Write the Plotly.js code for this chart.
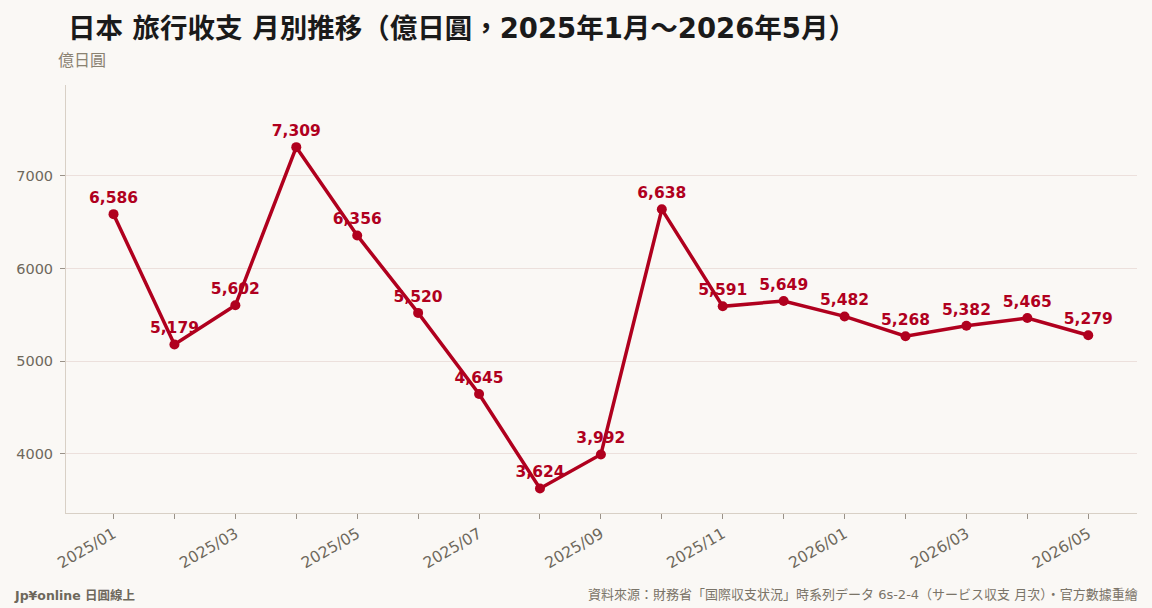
<!DOCTYPE html>
<html>
<head>
<meta charset="utf-8">
<script src="https://cdn.plot.ly/plotly-3.0.1.min.js"></script>
<style>
html,body{margin:0;padding:0;background:#faf8f5;}
#chart{width:1152px;height:608px;}
</style>
</head>
<body>
<div id="chart"></div>
<script>
const months = ["2025/01","2025/02","2025/03","2025/04","2025/05","2025/06","2025/07","2025/08","2025/09","2025/10","2025/11","2025/12","2026/01","2026/02","2026/03","2026/04","2026/05"];
const travelBalance = [6586, 5179, 5602, 7309, 6356, 5520, 4645, 3624, 3992, 6638, 5591, 5649, 5482, 5268, 5382, 5465, 5279];
const tickLabels = ["2025/01","","2025/03","","2025/05","","2025/07","","2025/09","","2025/11","","2026/01","","2026/03","","2026/05"];
const yTicks = [4000, 5000, 6000, 7000];

const idx = months.map((m, i) => i);
const labels = travelBalance.map(v => v.toLocaleString('en-US'));

const red = '#b0001e';
const dv = 'DejaVu Sans, Noto Sans CJK TC, sans-serif';

const trace = {
  x: idx,
  y: travelBalance,
  customdata: months,
  mode: 'lines+markers+text',
  type: 'scatter',
  line: {color: red, width: 3.5},
  marker: {color: red, size: 10},
  text: labels,
  textposition: 'top center',
  textfont: {family: dv, size: 15.5, color: red, weight: 'bold'},
  hovertemplate: '%{customdata}: %{y:,}<extra></extra>',
  cliponaxis: false
};

const layout = {
  width: 1152,
  height: 608,
  paper_bgcolor: '#faf8f5',
  plot_bgcolor: '#faf8f5',
  margin: {l: 66, r: 15, t: 85, b: 95},
  showlegend: false,
  font: {family: dv},
  title: {
    text: '日本 旅行收支 月別推移（億日圓，2025年1月～2026年5月）',
    font: {family: dv, size: 27.5, color: '#1a1a1a', weight: 'bold'},
    xref: 'container', yref: 'container',
    x: 68/1152, xanchor: 'left',
    y: 1 - 28/608, yanchor: 'middle'
  },
  xaxis: {
    range: [-0.78, 16.8],
    tickvals: idx,
    ticktext: tickLabels,
    tickangle: -30,
    ticks: 'outside',
    ticklen: 5,
    tickcolor: '#9a9288',
    tickfont: {family: dv, size: 15.5, color: '#6e685c'},
    showgrid: false,
    zeroline: false,
    showline: true,
    linecolor: '#d8d0c6',
    linewidth: 1
  },
  yaxis: {
    range: [3360, 7980],
    tickvals: yTicks,
    ticktext: yTicks.map(String),
    ticks: 'outside',
    ticklen: 5,
    ticklabelstandoff: 4,
    tickcolor: '#9a9288',
    tickfont: {family: dv, size: 14.5, color: '#6e685c'},
    showgrid: true,
    gridcolor: '#ece0dc',
    gridwidth: 1,
    zeroline: false,
    showline: true,
    linecolor: '#d8d0c6',
    linewidth: 1
  },
  annotations: [
    {
      text: '億日圓',
      xref: 'paper', yref: 'paper',
      x: (56 - 66) / 1071, y: (513 - 59) / 428,
      xanchor: 'left', yanchor: 'middle',
      showarrow: false,
      font: {family: 'Noto Sans CJK TC, sans-serif', size: 16, color: '#8a8272'}
    },
    {
      text: '<b>Jp¥online 日圓線上</b>',
      xref: 'paper', yref: 'paper',
      x: (12 - 66) / 1071, y: (513 - 595) / 428,
      xanchor: 'left', yanchor: 'middle',
      showarrow: false,
      font: {family: dv, size: 12.5, color: '#6e685c'}
    },
    {
      text: '資料來源：財務省「国際収支状況」時系列データ 6s-2-4（サービス収支 月次）・官方數據重繪',
      xref: 'paper', yref: 'paper',
      x: (1140 - 66) / 1071, y: (513 - 594) / 428,
      xanchor: 'right', yanchor: 'middle',
      showarrow: false,
      font: {family: dv, size: 13, color: '#7a7468'}
    }
  ]
};

Plotly.newPlot('chart', [trace], layout, {displayModeBar: false, staticPlot: true});
</script>
</body>
</html>
